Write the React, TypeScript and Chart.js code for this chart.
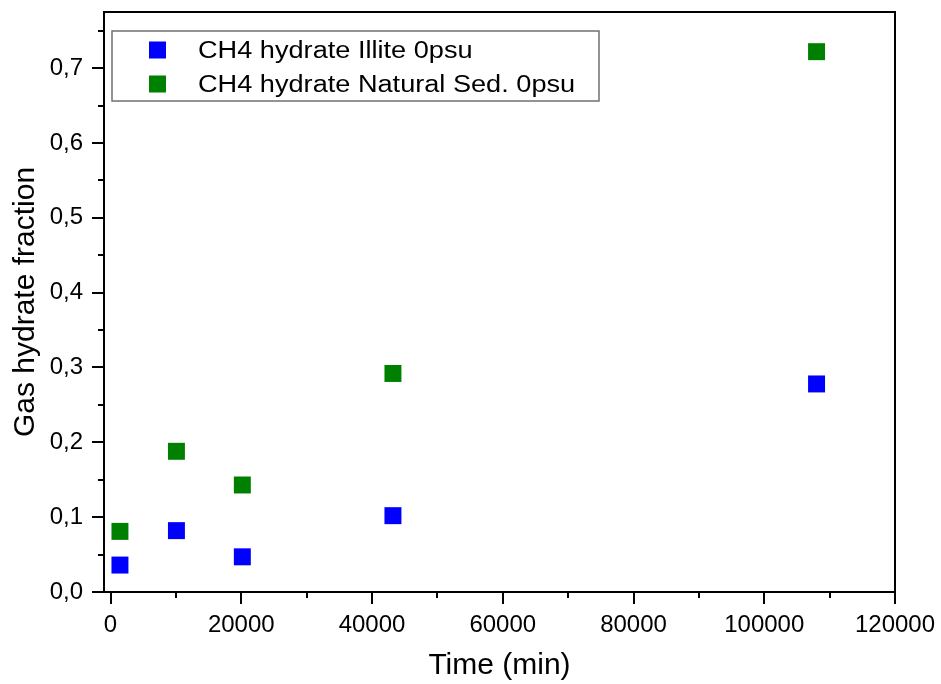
import React, { useEffect, useRef } from "react";
import { Chart, registerables } from "chart.js";

Chart.register(...registerables);

const seriesNames = ["CH4 hydrate Illite 0psu", "CH4 hydrate Natural Sed. 0psu"];
const seriesColors = ["#0000FF", "#008000"];
const timeMin = [1440, 10080, 20160, 43200, 108000];
const illiteFraction = [0.036, 0.082, 0.047, 0.102, 0.278];
const naturalFraction = [0.081, 0.188, 0.143, 0.292, 0.722];

const xMajor = [0, 20000, 40000, 60000, 80000, 100000, 120000];
const xMinor = [10000, 30000, 50000, 70000, 90000, 110000];
const yMajor = [0, 0.1, 0.2, 0.3, 0.4, 0.5, 0.6, 0.7];
const yMinor = [0.05, 0.15, 0.25, 0.35, 0.45, 0.55, 0.65, 0.75];

const FONT = "'Liberation Sans', Arial, sans-serif";

const framePlugin = {
  id: "frameTicksLegend",
  afterDraw(chart: any) {
    const ctx = chart.ctx;
    const { left, right, top, bottom } = chart.chartArea;
    const xs = chart.scales.x;
    const ys = chart.scales.y;
    ctx.save();
    ctx.strokeStyle = "#000";
    ctx.lineWidth = 2;
    ctx.strokeRect(left, top, right - left, bottom - top);
    ctx.beginPath();
    xMajor.forEach((v) => {
      const p = Math.round(xs.getPixelForValue(v));
      ctx.moveTo(p, bottom);
      ctx.lineTo(p, bottom + 12);
    });
    xMinor.forEach((v) => {
      const p = Math.round(xs.getPixelForValue(v));
      ctx.moveTo(p, bottom);
      ctx.lineTo(p, bottom + 6);
    });
    yMajor.forEach((v) => {
      const p = Math.round(ys.getPixelForValue(v));
      ctx.moveTo(left, p);
      ctx.lineTo(left - 12, p);
    });
    yMinor.forEach((v) => {
      const p = Math.round(ys.getPixelForValue(v));
      ctx.moveTo(left, p);
      ctx.lineTo(left - 6, p);
    });
    ctx.stroke();

    // legend box
    const lx = 112, ly = 31, lw = 487, lh = 70;
    ctx.strokeStyle = "#707070";
    ctx.lineWidth = 1.5;
    ctx.strokeRect(lx, ly, lw, lh);
    const rows = [50, 84];
    seriesNames.forEach((name, i) => {
      ctx.fillStyle = seriesColors[i];
      ctx.fillRect(149, rows[i] - 8.5, 17, 17);
      ctx.save();
      ctx.translate(198, rows[i] + 8.3);
      ctx.scale(1.18, 1);
      ctx.fillStyle = "#000";
      ctx.font = `23px ${FONT}`;
      ctx.textBaseline = "alphabetic";
      ctx.textAlign = "left";
      ctx.fillText(name, 0, 0);
      ctx.restore();
    });
    ctx.restore();
  },
};

export default function App() {
  const ref = useRef<HTMLCanvasElement | null>(null);
  useEffect(() => {
    if (!ref.current) return;
    const chart = new Chart(ref.current, {
      type: "scatter",
      data: {
        datasets: [
          {
            label: seriesNames[0],
            data: timeMin.map((t, i) => ({ x: t, y: illiteFraction[i] })),
            backgroundColor: seriesColors[0],
            borderColor: seriesColors[0],
            borderWidth: 0,
            pointStyle: "rect",
            pointRadius: 12,
            pointHoverRadius: 12,
          },
          {
            label: seriesNames[1],
            data: timeMin.map((t, i) => ({ x: t, y: naturalFraction[i] })),
            backgroundColor: seriesColors[1],
            borderColor: seriesColors[1],
            borderWidth: 0,
            pointStyle: "rect",
            pointRadius: 12,
            pointHoverRadius: 12,
          },
        ],
      },
      options: {
        responsive: false,
        animation: false,
        layout: { padding: { left: 0, right: 46, top: 11, bottom: 0 } },
        plugins: {
          legend: { display: false },
          tooltip: { enabled: false },
        },
        scales: {
          x: {
            type: "linear",
            min: -1000,
            max: 120000,
            grid: { display: false, drawTicks: false, tickLength: 0 },
            border: { display: false },
            afterBuildTicks: (s: any) => {
              s.ticks = xMajor.map((v) => ({ value: v }));
            },
            afterFit: (s: any) => {
              s.height = 92;
              s.paddingLeft = 0;
              s.paddingRight = 0;
              s.paddingTop = 0;
              s.paddingBottom = 0;
            },
            ticks: {
              padding: 19,
              color: "#000",
              maxRotation: 0,
              autoSkip: false,
              font: { family: FONT, size: 24 },
              callback: (v: any) => String(v),
            },
            title: {
              display: true,
              text: "Time (min)",
              color: "#000",
              font: { family: FONT, size: 30 },
              padding: { top: 0, bottom: 0 },
            },
          },
          y: {
            type: "linear",
            min: 0,
            max: 0.775,
            grid: { display: false, drawTicks: false, tickLength: 0 },
            border: { display: false },
            afterBuildTicks: (s: any) => {
              s.ticks = yMajor.map((v) => ({ value: v }));
            },
            afterFit: (s: any) => {
              s.width = 104;
              s.paddingLeft = 0;
              s.paddingRight = 0;
              s.paddingTop = 0;
              s.paddingBottom = 0;
            },
            ticks: {
              padding: 21,
              color: "#000",
              autoSkip: false,
              font: { family: FONT, size: 24 },
              callback: (v: any) => Number(v).toFixed(1).replace(".", ","),
            },
            title: {
              display: true,
              text: "Gas hydrate fraction",
              color: "#000",
              font: { family: FONT, size: 30 },
              padding: { top: 8, bottom: 0 },
            },
          },
        },
      },
      plugins: [framePlugin],
    });
    return () => chart.destroy();
  }, []);
  return (
    <div style={{ position: "fixed", left: 0, top: 0, width: 941, height: 684, background: "#fff" }}>
      <canvas ref={ref} width={941} height={684} style={{ display: "block" }} />
    </div>
  );
}
